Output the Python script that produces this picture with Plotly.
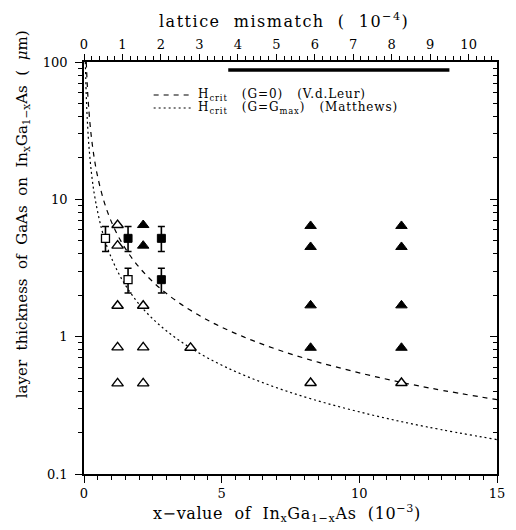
import plotly.graph_objects as go

# ---------------- data ----------------
# critical thickness curves (x in 1e-3, H in um)
leur_x = [0.083, 0.116, 0.158, 0.255, 0.371, 0.484, 0.704, 0.977, 1.331, 1.846, 2.51, 3.39, 4.55, 5.78, 7.07, 8.53, 10.8, 12.63, 15.0]
leur_h = [100, 70, 50, 30, 20, 15, 10, 7, 5, 3.5, 2.5, 1.8, 1.3, 1.0, 0.8, 0.65, 0.5, 0.42, 0.348]

matt_x = [0.0486, 0.078, 0.114, 0.175, 0.280, 0.407, 0.648, 0.937, 1.434, 2.14, 3.0, 3.99, 5.15, 6.65, 8.30, 10.43, 12.47, 15.0]
matt_h = [100, 60, 40, 25, 15, 10, 6, 4, 2.5, 1.6, 1.1, 0.8, 0.6, 0.45, 0.35, 0.27, 0.22, 0.178]

# open triangles
open_tri_x = [1.22, 1.22, 1.22, 1.22, 1.22, 2.15, 2.15, 2.15, 3.87, 8.23, 11.53]
open_tri_h = [6.5, 4.6, 1.68, 0.835, 0.457, 1.68, 0.835, 0.457, 0.83, 0.46, 0.46]

# filled triangles
fill_tri_x = [2.15, 2.15, 8.23, 8.23, 8.23, 8.23, 11.53, 11.53, 11.53, 11.53]
fill_tri_h = [6.5, 4.6, 6.4, 4.5, 1.69, 0.83, 6.4, 4.5, 1.69, 0.83]

# open squares with error bars
open_sq_x = [0.78, 1.60]
open_sq_h = [5.2, 2.6]
open_sq_hi = [6.34, 3.15]
open_sq_lo = [4.17, 2.08]

# filled squares with error bars
fill_sq_x = [1.60, 2.81, 2.81]
fill_sq_h = [5.2, 5.2, 2.6]
fill_sq_hi = [6.34, 6.34, 3.15]
fill_sq_lo = [4.17, 4.17, 2.08]

# top axis: lattice mismatch (1e-4) per x-value unit (1e-3)
x_per_mismatch = 1.397
mismatch_bar = [3.75, 9.5]
mismatch_bar_h = [87.5, 87.5]

x_ticks = [0, 5, 10, 15]
top_ticks = list(range(0, 11))
y_tickvals = [0.1, 1, 10, 100]
y_ticktext = ["0.1", "1", "10", "100"]
y_minor = [k * 10.0 ** d for d in (-1, 0, 1) for k in range(2, 10)]

NB = "\u00a0"
legend_labels = ["H<sub>crit</sub>" + NB * 3 + "(G=0)" + NB * 3 + "(V.d.Leur)",
                 "H<sub>crit</sub>" + NB * 3 + "(G=G<sub>max</sub>)" + NB * 3 + "(Matthews)"]

FONT = "DejaVu Serif"

def spaced(t, ls):
    return '<span style="letter-spacing:%spx">%s</span>' % (ls, t)

fig = go.Figure()

fig.add_trace(go.Scatter(x=leur_x, y=leur_h, mode="lines", line_shape="spline",
                         line=dict(color="black", width=1.2, dash="5px,5px"), showlegend=False))
fig.add_trace(go.Scatter(x=matt_x, y=matt_h, mode="lines", line_shape="spline",
                         line=dict(color="black", width=1.2, dash="2px,3px"), showlegend=False))

def err(h, hi, lo):
    return dict(type="data", symmetric=False,
                array=[a - b for a, b in zip(hi, h)],
                arrayminus=[b - c for b, c in zip(h, lo)],
                color="black", thickness=1.6, width=3.5)

fig.add_trace(go.Scatter(x=open_sq_x, y=open_sq_h, mode="markers",
                         error_y=err(open_sq_h, open_sq_hi, open_sq_lo),
                         marker=dict(symbol="square", size=8, color="white",
                                     line=dict(color="black", width=1.3)), showlegend=False))
fig.add_trace(go.Scatter(x=fill_sq_x, y=fill_sq_h, mode="markers",
                         error_y=err(fill_sq_h, fill_sq_hi, fill_sq_lo),
                         marker=dict(symbol="square", size=8, color="black",
                                     line=dict(color="black", width=1)), showlegend=False))
fig.add_trace(go.Scatter(x=open_tri_x, y=open_tri_h, mode="markers",
                         marker=dict(symbol="triangle-up", size=10, color="white",
                                     line=dict(color="black", width=1.4)), showlegend=False))
fig.add_trace(go.Scatter(x=fill_tri_x, y=fill_tri_h, mode="markers",
                         marker=dict(symbol="triangle-up", size=10, color="black",
                                     line=dict(color="black", width=1)), showlegend=False))

# thick bar along the top (in mismatch units)
fig.add_trace(go.Scatter(x=mismatch_bar, y=mismatch_bar_h, mode="lines", xaxis="x2", yaxis="y",
                         line=dict(color="black", width=3.5), showlegend=False, hoverinfo="skip"))
# dummy trace to show right axis
fig.add_trace(go.Scatter(x=[None], y=[None], xaxis="x", yaxis="y2", showlegend=False))

tickfont = dict(family=FONT, size=13, color="black")
fig.update_layout(
    width=516, height=530,
    margin=dict(l=84, r=11, t=62, b=56),
    paper_bgcolor="white", plot_bgcolor="white",
    font=dict(family=FONT, color="black"),
    xaxis=dict(range=[0, 15], tickvals=x_ticks, ticks="outside", ticklen=7, tickwidth=1.2,
               minor=dict(dtick=0.5, ticks="outside", ticklen=4, tickwidth=1, tickcolor="black"),
               showline=True, linecolor="black", linewidth=1.5, showgrid=False, zeroline=False,
               tickfont=tickfont, tickcolor="black", ticklabelstandoff=0),
    xaxis2=dict(range=[0, 15 / x_per_mismatch], overlaying="x", side="top", anchor="y",
                tickvals=top_ticks, ticks="outside", ticklen=6, tickwidth=1.2,
                minor=dict(dtick=0.2, ticks="outside", ticklen=4, tickwidth=1, tickcolor="black"),
                showline=True, linecolor="black", linewidth=1.5, showgrid=False, zeroline=False,
                tickfont=tickfont, tickcolor="black"),
    yaxis=dict(type="log", range=[-1, 2], tickvals=y_tickvals, ticktext=y_ticktext,
               ticks="outside", ticklen=7, tickwidth=1.2,
               minor=dict(tickvals=y_minor, ticks="outside", ticklen=4, tickwidth=1,
                          tickcolor="black", showgrid=False),
               showline=True, linecolor="black", linewidth=1.5, showgrid=False, zeroline=False,
               tickfont=tickfont, tickcolor="black", ticklabelstandoff=5),
    yaxis2=dict(type="log", range=[-1, 2], overlaying="y", side="right", anchor="x",
                tickvals=y_tickvals, showticklabels=False, ticks="inside", ticklen=7, tickwidth=1.2,
                minor=dict(tickvals=y_minor, ticks="inside", ticklen=4, tickwidth=1,
                           tickcolor="black", showgrid=False),
                showline=True, linecolor="black", linewidth=1.5, showgrid=False, zeroline=False,
                tickcolor="black"),
)

def px(x):
    return (x - 84) / 421

def py(y):
    return (474 - y) / 412

# legend samples (decoration, paper coordinates)
fig.add_shape(type="line", xref="paper", yref="paper", x0=px(155), x1=px(195), y0=py(95), y1=py(95),
              line=dict(color="black", width=1.2, dash="5px,5px"))
fig.add_shape(type="line", xref="paper", yref="paper", x0=px(155), x1=px(195), y0=py(108), y1=py(108),
              line=dict(color="black", width=1.2, dash="2px,3px"))
for i, lab in enumerate(legend_labels):
    fig.add_annotation(x=px(198), y=py(95 + 13 * i), xref="paper", yref="paper",
                       text=spaced(lab, 0.9), showarrow=False, xanchor="left", yanchor="middle",
                       font=dict(family=FONT, size=12, color="black"))

# axis titles
fig.add_annotation(x=px(288), y=py(20), xref="paper", yref="paper",
                   text=spaced("lattice" + NB * 2 + "mismatch" + NB * 2 + "(" + NB * 2 + "10<sup>−4</sup>)", 1.5),
                   showarrow=False, xanchor="center", yanchor="middle",
                   font=dict(family=FONT, size=16, color="black"))
fig.add_annotation(x=px(291), y=py(513), xref="paper", yref="paper",
                   text=spaced("x−value" + NB * 2 + "of" + NB * 2 + "In<sub>x</sub>Ga<sub>1−x</sub>As" + NB * 2 + "(10<sup>−3</sup>)", 0.6),
                   showarrow=False, xanchor="center", yanchor="middle",
                   font=dict(family=FONT, size=16, color="black"))
fig.add_annotation(x=px(22), y=py(214), xref="paper", yref="paper",
                   text="layer  thickness  of  GaAs  on  In<sub>x</sub>Ga<sub>1−x</sub>As  (  <i>μ</i>m)",
                   showarrow=False, textangle=-90,
                   xanchor="center", yanchor="middle", font=dict(family=FONT, size=15, color="black"))

fig.write_html("out.html", config={"displayModeBar": False},
               post_script="document.body.style.margin='0';document.body.style.padding='0';")
